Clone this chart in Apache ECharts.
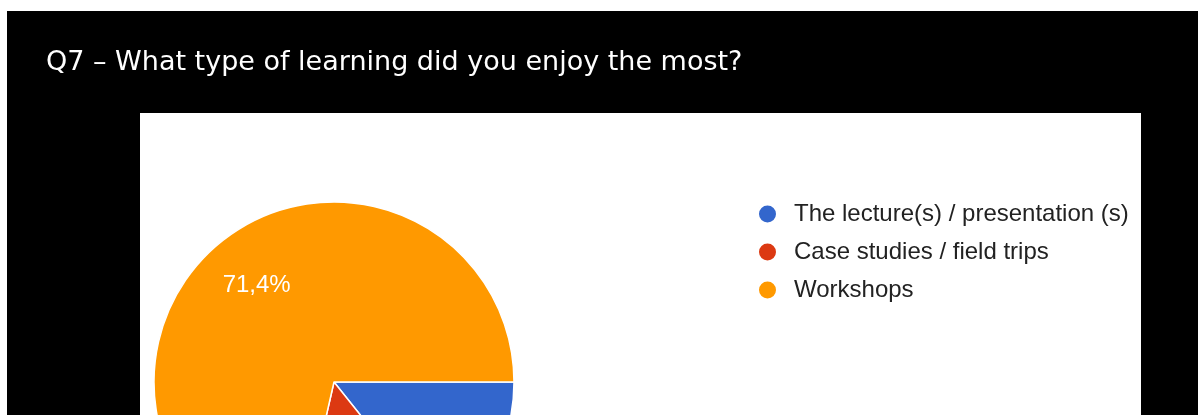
<!DOCTYPE html>
<html>
<head>
<meta charset="utf-8">
<script src="https://cdn.jsdelivr.net/npm/echarts@6/dist/echarts.min.js"></script>
<style>
html,body{margin:0;padding:0;background:#fff;}
#c{width:1198px;height:415px;}
</style>
</head>
<body>
<div id="c"></div>
<script>
const titleText = 'Q7 – What type of learning did you enjoy the most?';
const categories = ['The lecture(s) / presentation (s)', 'Case studies / field trips', 'Workshops'];
const values = [2, 2, 10];
const colors = ['#3366CC', '#DC3912', '#FF9900'];

const total = values.reduce((a, b) => a + b, 0);
const data = categories.map((name, i) => ({ name: name, value: values[i] }));

const chart = echarts.init(document.getElementById('c'), null, { renderer: 'canvas' });
chart.setOption({
  backgroundColor: '#ffffff',
  animation: false,
  color: colors,
  graphic: [
    { type: 'rect', z: -10, shape: { x: 7, y: 11, width: 1191, height: 404 }, style: { fill: '#000000' } },
    { type: 'rect', z: -9, shape: { x: 140, y: 113, width: 1001, height: 302 }, style: { fill: '#ffffff' } }
  ],
  title: {
    text: titleText,
    left: 46,
    top: 49,
    padding: 0,
    textStyle: { color: '#ffffff', fontFamily: 'DejaVu Sans', fontSize: 27, fontWeight: 'normal' }
  },
  legend: {
    orient: 'vertical',
    left: 757,
    top: 202,
    padding: 0,
    icon: 'circle',
    itemWidth: 19,
    itemHeight: 19,
    itemGap: 14,
    data: categories,
    textStyle: { fontFamily: 'Liberation Sans', fontSize: 24, color: '#222222', lineHeight: 24, padding: [0, 0, 0, 12] }
  },
  series: [
    {
      type: 'pie',
      center: [334, 382],
      radius: [0, 180],
      startAngle: 0,
      clockwise: true,
      data: data,
      label: { show: false },
      labelLine: { show: false },
      itemStyle: { borderColor: '#ffffff', borderWidth: 1.5 },
      emphasis: { disabled: true }
    },
    {
      type: 'pie',
      center: [334, 382],
      radius: [62, 180],
      startAngle: 0,
      clockwise: true,
      silent: true,
      data: data,
      itemStyle: { color: 'rgba(0,0,0,0)' },
      label: {
        show: true,
        position: 'inside',
        color: '#ffffff',
        fontFamily: 'Liberation Sans',
        fontSize: 24,
        formatter: p => (p.value / total * 100).toFixed(1).replace('.', ',') + '%'
      },
      labelLine: { show: false },
      emphasis: { disabled: true }
    }
  ]
});
</script>
</body>
</html>
